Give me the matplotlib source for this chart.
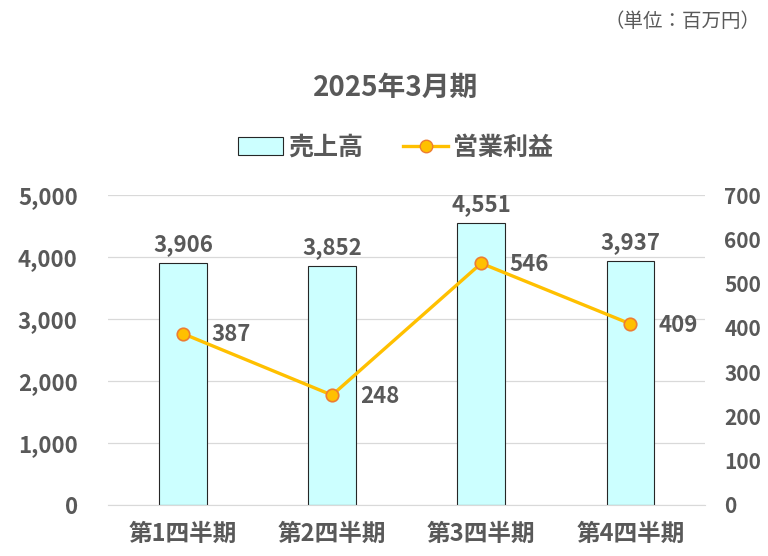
import matplotlib.pyplot as plt
import numpy as np
from matplotlib.lines import Line2D
from matplotlib.patches import Patch

plt.rcParams['font.family'] = ['Noto Sans CJK JP', 'DejaVu Sans']

quarters = ['第1四半期', '第2四半期', '第3四半期', '第4四半期']
sales = [3906, 3852, 4551, 3937]
profit = [387, 248, 546, 409]

gray = '#595959'
x = np.arange(len(quarters))

fig = plt.figure(figsize=(7.68, 5.56), dpi=100)
ax = fig.add_axes([0.141, 0.092, 0.777, 0.557])
ax2 = ax.twinx()

ax.bar(x, sales, width=0.32, color='#CCFFFF', edgecolor='#262626', linewidth=0.8, zorder=2)
for xi, v in zip(x, sales):
    ax.text(xi, v + 110, f'{v:,}', ha='center', va='bottom', fontsize=16,
            fontweight='bold', color=gray)

ax2.plot(x, profit, color='#FFC000', linewidth=2.4, marker='o', markersize=9,
         markerfacecolor='#FFC000', markeredgecolor='#ED7D31', markeredgewidth=1.2, zorder=3)
for xi, v in zip(x, profit):
    ax2.text(xi + 0.19, v - 3, f'{v}', ha='left', va='center', fontsize=16,
             fontweight='bold', color=gray)

ax.set_xlim(-0.5, 3.5)
ax.set_ylim(0, 5000)
ax2.set_ylim(0, 700)
ax.set_yticks(np.arange(0, 5001, 1000))
ax2.set_yticks(np.arange(0, 701, 100))
ax.set_yticklabels([f'{v:,}' for v in range(0, 5001, 1000)])
ax.set_xticks(x)
ax.set_xticklabels(quarters)

ax.grid(axis='y', color='#D9D9D9', linewidth=0.9, zorder=0)
ax.set_axisbelow(True)
for a in (ax, ax2):
    for s in a.spines.values():
        s.set_visible(False)
    a.tick_params(length=0, labelsize=16, labelcolor=gray)
    for lab in a.get_yticklabels() + a.get_xticklabels():
        lab.set_fontweight('bold')
ax.tick_params(axis='x', labelsize=17, pad=12)
ax.spines['bottom'].set_visible(True)
ax.spines['bottom'].set_color('#D9D9D9')
ax.tick_params(axis='y', pad=22)
ax2.tick_params(axis='y', pad=14, labelsize=15)

fig.text(0.515, 0.842, '2025年3月期', ha='center', va='center', fontsize=20,
         fontweight='bold', color=gray)
fig.text(0.99, 0.962, '（単位：百万円）', ha='right', va='center', fontsize=14, color=gray)

handles = [Patch(facecolor='#CCFFFF', edgecolor='#262626', linewidth=0.8),
           Line2D([0], [0], color='#FFC000', linewidth=2.4, marker='o', markersize=9,
                  markerfacecolor='#FFC000', markeredgecolor='#ED7D31')]
leg = fig.legend(handles, ['売上高', '営業利益'], loc='center', bbox_to_anchor=(0.515, 0.734),
                 ncol=2, frameon=False, fontsize=18, handlelength=1.8, columnspacing=1.6,
                 handletextpad=0.2)
for t in leg.get_texts():
    t.set_color(gray)
    t.set_fontweight('bold')

fig.savefig('out.png', dpi=100)
